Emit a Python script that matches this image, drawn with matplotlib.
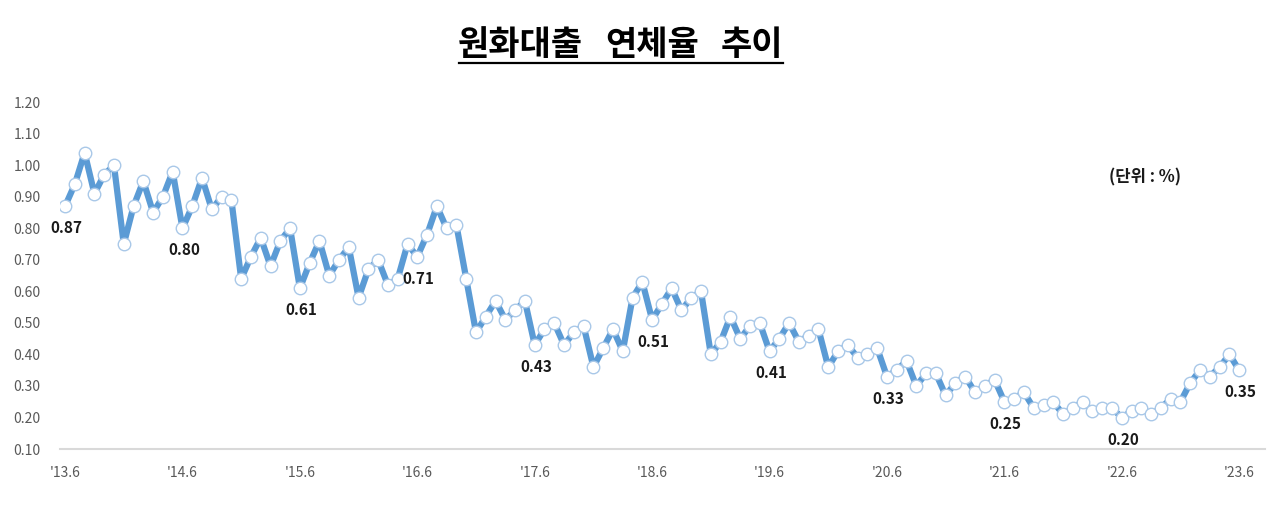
import matplotlib
matplotlib.use("Agg")
import matplotlib.pyplot as plt

plt.rcParams["font.family"] = ["Noto Sans CJK KR", "DejaVu Sans"]

# 월말 원화대출 연체율 (%), '13.6 ~ '23.6
rates = [
    0.87, 0.94, 1.04, 0.91, 0.97, 1.00, 0.75, 0.87, 0.95, 0.85, 0.90, 0.98,
    0.80, 0.87, 0.96, 0.86, 0.90, 0.89, 0.64, 0.71, 0.77, 0.68, 0.76, 0.80,
    0.61, 0.69, 0.76, 0.65, 0.70, 0.74, 0.58, 0.67, 0.70, 0.62, 0.64, 0.75,
    0.71, 0.78, 0.87, 0.80, 0.81, 0.64, 0.47, 0.52, 0.57, 0.51, 0.54, 0.57,
    0.43, 0.48, 0.50, 0.43, 0.47, 0.49, 0.36, 0.42, 0.48, 0.41, 0.58, 0.63,
    0.51, 0.56, 0.61, 0.54, 0.58, 0.60, 0.40, 0.44, 0.52, 0.45, 0.49, 0.50,
    0.41, 0.45, 0.50, 0.44, 0.46, 0.48, 0.36, 0.41, 0.43, 0.39, 0.40, 0.42,
    0.33, 0.35, 0.38, 0.30, 0.34, 0.34, 0.27, 0.31, 0.33, 0.28, 0.30, 0.32,
    0.25, 0.26, 0.28, 0.23, 0.24, 0.25, 0.21, 0.23, 0.25, 0.22, 0.23, 0.23,
    0.20, 0.22, 0.23, 0.21, 0.23, 0.26, 0.25, 0.31, 0.35, 0.33, 0.36, 0.40,
    0.35,
]
year_labels = ["'13.6", "'14.6", "'15.6", "'16.6", "'17.6", "'18.6",
               "'19.6", "'20.6", "'21.6", "'22.6", "'23.6"]
labeled_idx = [0, 12, 24, 36, 48, 60, 72, 84, 96, 108, 120]
title_words = ["원화대출", "연체율", "추이"]

x = list(range(len(rates)))

fig = plt.figure(figsize=(12.8, 5.24), dpi=100)
ax = fig.add_axes([0.047, 0.143, 0.941, 0.662])

ax.plot(x, rates, color="#5B9BD5", lw=4.5, solid_joinstyle="round",
        solid_capstyle="round", marker="o", markersize=9,
        markerfacecolor="white", markeredgecolor="#A9C8E8",
        markeredgewidth=1.0, zorder=3)

for i in labeled_idx:
    ax.annotate(f"{rates[i]:.2f}", (x[i], rates[i]), textcoords="offset pixels",
                xytext=(1.5, -22), ha="center", va="center",
                fontsize=11, fontweight="bold", color="#1a1a1a")

ax.set_xlim(-0.5, 122.6)
ax.set_ylim(0.10, 1.20)
ax.set_yticks([0.10 + 0.10 * k for k in range(12)])
ax.set_yticklabels([f"{0.10 + 0.10 * k:.2f}" for k in range(12)])
ax.set_xticks(labeled_idx)
ax.set_xticklabels(year_labels)
ax.tick_params(axis="both", length=0, labelsize=10, labelcolor="#595959")
ax.tick_params(axis="y", pad=14)
ax.tick_params(axis="x", pad=12)

for side in ["top", "right", "left"]:
    ax.spines[side].set_visible(False)
ax.spines["bottom"].set_color("#D9D9D9")
ax.spines["bottom"].set_linewidth(1.5)

# title, word by word to keep the wide gaps
for word, px in zip(title_words, [458, 605, 721]):
    fig.text(px / 1280, 1 - 44 / 524, word, ha="left", va="center",
             fontsize=24.5, fontweight="bold", color="black")
fig.add_artist(plt.Line2D([459 / 1280, 783 / 1280], [1 - 63 / 524, 1 - 63 / 524],
                          color="black", lw=1.6))
fig.text(1145 / 1280, 1 - 177 / 524, "(단위 : %)", ha="center", va="center",
         fontsize=12, fontweight="bold", color="#1a1a1a")

fig.savefig("out.png", dpi=100, facecolor="white")
